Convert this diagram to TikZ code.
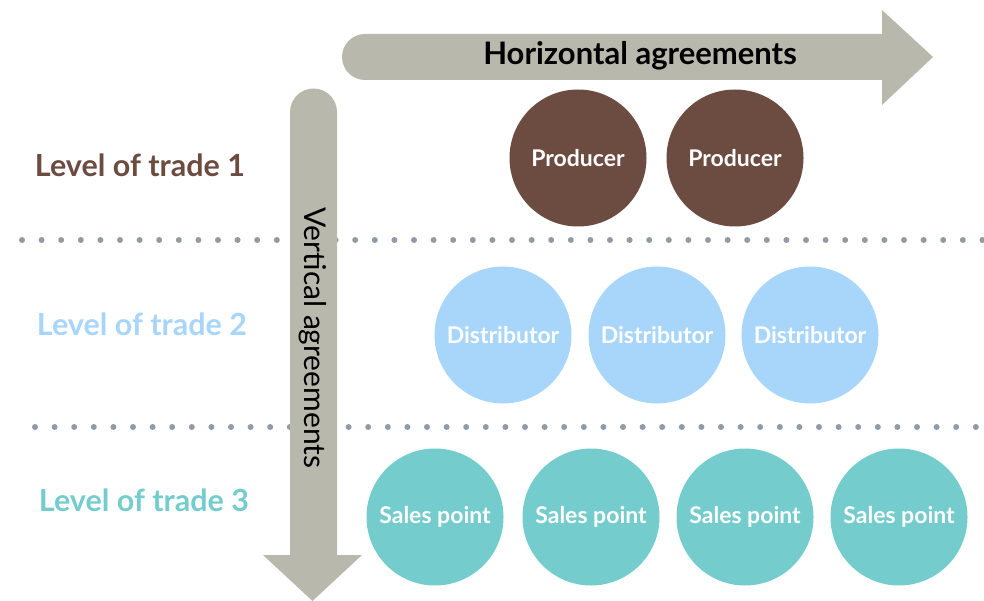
\documentclass[tikz,border=0pt]{standalone}
\usepackage{fontspec}
\setmainfont{Lato}
\begin{document}
\begin{tikzpicture}[x=1pt,y=-1pt,
  dotline/.style={draw=dotgray, line width=6pt, line cap=round, dash pattern=on 0pt off 19.6pt},
  bubble/.style={circle, minimum size=137pt, inner sep=0pt, text=white, font=\fontsize{23}{27}\selectfont\bfseries},
  levellabel/.style={font=\fontsize{30.5}{36}\selectfont\bfseries, anchor=center},
  arrowlabel/.style={font=\fontsize{31}{36}\selectfont\bfseries, text=black}]
\definecolor{arrowgray}{HTML}{B8B8AC}
\definecolor{dotgray}{HTML}{8F9BA8}
\definecolor{brownc}{HTML}{6C4B41}
\definecolor{bluec}{HTML}{A8D5FA}
\definecolor{tealc}{HTML}{74CDCC}
\useasboundingbox (0,0) rectangle (984,601);

% level separators
\draw[dotline] (22,240) -- (985,240);
\draw[dotline] (35,427) -- (978,427);

% horizontal arrow (y axis points down)
\fill[arrowgray] (365,34) -- (882,34) -- (882,10) -- (933,57) -- (882,105) -- (882,80) -- (365,80)
  arc[start angle=90, end angle=270, radius=23] -- cycle;
\node[arrowlabel] (hlab) at (640,56) {Horizontal agreements};

% vertical arrow
\fill[arrowgray] (290,112) arc[start angle=180, end angle=360, radius=23.5] -- (337,555) -- (362,555)
  -- (312.5,601) -- (263,555) -- (290,555) -- cycle;
\node[arrowlabel, font=\fontsize{30}{36}\selectfont, rotate=-90] (vlab) at (313,338) {Vertical agreements};

% level labels
\node[levellabel, text=brownc] (l1) at (140,165) {Level of trade 1};
\node[levellabel, text=bluec] (l2) at (142,324) {Level of trade 2};
\node[levellabel, text=tealc] (l3) at (144,500) {Level of trade 3};

% level 1
\node[bubble, fill=brownc] (p1) at (578,158) {Producer};
\node[bubble, fill=brownc] (p2) at (735,158) {Producer};
% level 2
\node[bubble, fill=bluec] (d1) at (503,335) {Distributor};
\node[bubble, fill=bluec] (d2) at (657,335) {Distributor};
\node[bubble, fill=bluec] (d3) at (810,335) {Distributor};
% level 3
\node[bubble, fill=tealc] (s1) at (435,517) {Sales point};
\node[bubble, fill=tealc] (s2) at (591,517) {Sales point};
\node[bubble, fill=tealc] (s3) at (745,517) {Sales point};
\node[bubble, fill=tealc] (s4) at (899,517) {Sales point};
\end{tikzpicture}
\end{document}
